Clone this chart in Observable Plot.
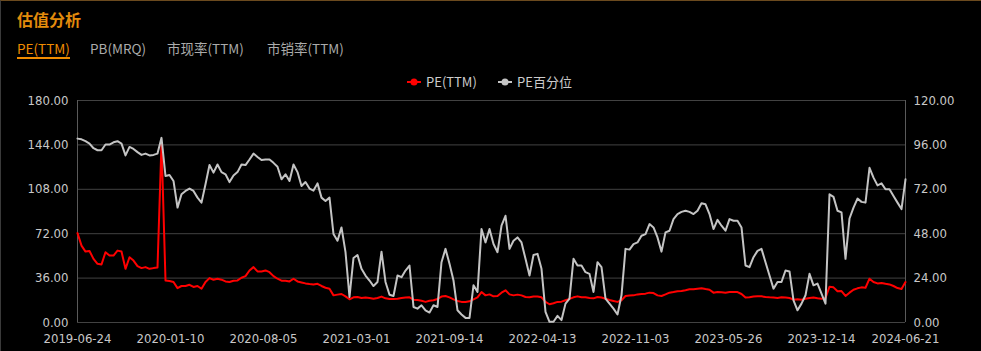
<!DOCTYPE html>
<html>
<head>
<meta charset="utf-8">
<script src="https://cdn.jsdelivr.net/npm/d3@7"></script>
<script src="https://cdn.jsdelivr.net/npm/@observablehq/plot@0.6"></script>
<style>
  html, body { margin: 0; padding: 0; background: #000; }
  #wrap { position: relative; width: 980px; height: 350px; background: #000;
          border-top: 1px solid #6b4a1e; border-left: 1px solid #3a3a3a; overflow: hidden;
          font-family: "Noto Sans CJK SC", "DejaVu Sans", sans-serif; }
  .title { position: absolute; left: 16px; top: 8px; font-size: 16px; font-weight: bold; color: #e38b0c; line-height: 20px; }
  .tab { position: absolute; top: 38px; font-size: 13.5px; color: #ababab; line-height: 18px; white-space: nowrap; }
  .tab.active { color: #f08c00; }
  .tab.active::after { content: ""; position: absolute; left: 0; right: 0; top: 18px; height: 2px; background: #f08c00; }
  .legend { position: absolute; top: 72px; left: 0; width: 980px; height: 18px; font-size: 13px; color: #cccccc; }
  .legend span.item { position: absolute; top: 0; line-height: 18px; white-space: nowrap; }
  .legend svg { vertical-align: middle; margin-right: 5px; position: relative; top: -1px; }
  #chart { position: absolute; left: -1px; top: 87px; }
</style>
</head>
<body>
<div id="wrap">
  <div class="title">估值分析</div>
  <div class="tab active" style="left:16px">PE(TTM)</div>
  <div class="tab" style="left:89px">PB(MRQ)</div>
  <div class="tab" style="left:166px">市现率(TTM)</div>
  <div class="tab" style="left:266px">市销率(TTM)</div>
  <div class="legend" id="legend"></div>
  <div id="chart"></div>
</div>
<script>
// ---- data ----
const seriesNames = ["PE(TTM)", "PE百分位"];
const seriesColors = ["#ff0000", "#c4c4c4"];

// PE(TTM), sampled uniformly across the trading-day range (left axis)
const pe = [
72.5,62.3,57.5,58.0,51.6,47.6,47.0,57.0,54.3,54.3,58.3,57.5,43.5,52.9,50.2,45.7,44.1,44.9,43.5,44.1,
44.6,145.6,34.1,33.6,32.8,27.9,29.6,29.6,30.6,28.8,29.6,27.4,32.8,36.0,34.7,35.5,34.7,33.3,32.8,33.9,
34.1,36.3,37.6,42.2,44.9,41.4,41.4,42.2,40.8,37.6,35.5,33.9,33.9,33.3,35.5,33.3,32.5,31.7,31.2,30.9,
31.4,29.6,28.2,27.4,22.0,22.6,23.1,21.2,18.8,20.4,20.7,19.9,20.2,19.9,19.3,19.9,21.0,19.6,19.1,19.1,
19.3,19.9,20.2,20.4,18.5,18.3,17.7,16.7,17.7,18.0,19.1,21.0,21.5,20.4,18.8,17.5,16.7,16.7,17.2,18.8,
20.4,24.7,22.0,22.8,21.2,21.5,24.2,26.1,22.8,22.0,22.6,22.0,20.7,20.4,21.0,21.0,20.4,16.7,14.8,15.6,
16.7,16.9,18.0,19.1,20.4,21.2,20.4,20.4,19.9,19.6,20.7,20.2,19.3,18.3,17.5,16.7,18.0,21.5,21.8,22.0,
22.8,23.1,23.4,24.2,23.9,22.0,21.5,22.8,24.2,24.7,25.3,25.5,26.1,26.9,26.9,27.4,27.7,27.1,26.6,24.2,
24.7,24.5,24.2,24.7,24.7,24.7,23.1,20.2,20.4,21.0,21.2,21.2,20.7,20.4,20.2,19.9,20.4,20.2,19.9,18.5,
18.8,18.5,19.3,19.9,20.2,19.6,19.3,19.9,29.0,28.5,25.3,25.5,21.5,24.2,26.6,27.7,28.5,28.2,35.5,32.8,
31.7,32.0,31.4,30.9,29.6,27.9,27.1,32.8
];

// PE percentile (right axis, 0-120)
const pct = [
99.4,99.0,98.0,96.7,94.2,93.1,93.1,96.2,96.2,97.4,98.0,96.7,90.3,94.9,93.8,92.1,90.6,91.3,90.3,90.6,
91.3,99.8,79.2,79.7,76.5,62.1,69.3,71.1,72.4,71.1,67.5,64.8,74.7,85.1,81.0,85.4,81.3,80.1,75.9,79.5,
81.3,85.4,85.1,88.1,91.3,89.5,87.8,88.1,88.1,86.3,84.2,77.4,80.1,76.5,85.4,81.3,73.8,75.9,72.4,71.3,
75.2,67.5,65.7,67.5,47.8,44.2,51.4,38.0,13.8,34.9,36.5,29.0,25.4,22.7,19.7,21.9,38.3,21.9,15.0,14.3,
25.4,24.5,28.1,30.8,8.4,7.5,9.3,6.6,5.4,9.3,8.4,32.6,39.8,31.7,22.7,6.6,4.3,2.5,2.5,20.1,
16.5,50.5,43.3,50.5,42.4,38.0,52.3,57.7,39.8,44.2,46.0,43.3,34.4,25.4,36.5,37.1,29.0,5.7,0.4,0.4,
3.6,1.3,10.2,12.9,34.4,30.8,30.8,27.2,26.3,16.5,32.6,29.9,12.9,10.2,7.5,4.3,14.7,39.8,39.4,42.4,
43.3,46.9,47.8,53.2,51.4,46.0,38.3,48.7,49.6,55.9,58.6,59.8,60.4,59.8,58.6,60.4,64.5,63.9,58.6,50.5,
55.5,52.3,49.6,55.9,55.0,55.0,51.4,30.8,29.9,35.3,38.7,39.8,32.6,25.4,18.3,21.9,21.9,28.1,27.6,12.0,
6.6,10.2,14.7,26.3,20.1,21.0,15.6,10.2,69.3,67.9,60.4,59.5,34.4,56.2,62.1,67.0,65.2,64.8,83.6,78.3,
74.1,75.2,72.0,72.0,68.4,64.8,61.3,77.4
];

const dateLabels = ["2019-06-24","2020-01-10","2020-08-05","2021-03-01","2021-09-14",
                    "2022-04-13","2022-11-03","2023-05-26","2023-12-14","2024-06-21"];
const tradingDays = 1212;      // categories on the x axis
const labelInterval = 136;     // a date label every 136 trading days (last one shown too)
const leftTicks = [0, 36, 72, 108, 144, 180];
const rightTicks = [0, 24, 48, 72, 96, 120];

// ---- build ----
const leftMax = leftTicks[leftTicks.length - 1];
const rightMax = rightTicks[rightTicks.length - 1];
const ratio = leftMax / rightMax;
const lastDay = tradingDays - 1;
const rows = pe.map((v, i) => ({ day: i * lastDay / (pe.length - 1), pe: v, pct: pct[i] }));
const labelDays = dateLabels.map((d, k) => k < dateLabels.length - 1 ? k * labelInterval : lastDay);
const labelOf = new Map(labelDays.map((d, k) => [d, dateLabels[k]]));

const font = '"DejaVu Sans Condensed", "DejaVu Sans", sans-serif';

const chart = Plot.plot({
  width: 981,
  height: 263,
  marginLeft: 77,
  marginRight: 76,
  marginTop: 12,
  marginBottom: 29,
  style: { background: "transparent", color: "#c8c8c8", fontSize: "13px", fontFamily: font },
  x: { domain: [0, lastDay], axis: null },
  y: { domain: [0, leftMax], axis: null },
  marks: [
    Plot.ruleY(leftTicks, { stroke: "#424242", strokeWidth: 1 }),
    Plot.ruleX([0, lastDay], { stroke: "#5a5a5a", strokeWidth: 1 }),
    Plot.axisY(leftTicks, { anchor: "left", label: null, tickSize: 0, tickPadding: 9, tickFormat: d => d.toFixed(2), fill: "#c8c8c8" }),
    Plot.axisY(rightTicks.map(t => t * ratio), { anchor: "right", label: null, tickSize: 0, tickPadding: 8, tickFormat: d => (d / ratio).toFixed(2), fill: "#c8c8c8" }),
    Plot.axisX(labelDays, { anchor: "bottom", label: null, tickSize: 0, tickPadding: 11, tickFormat: d => labelOf.get(d), fill: "#c8c8c8" }),
    Plot.line(rows, { x: "day", y: "pe", stroke: seriesColors[0], strokeWidth: 2, strokeLinejoin: "round" }),
    Plot.line(rows, { x: "day", y: d => d.pct * ratio, stroke: seriesColors[1], strokeWidth: 2, strokeLinejoin: "round" })
  ]
});
document.getElementById("chart").appendChild(chart);

// legend
const legend = document.getElementById("legend");
const legendLeft = [406, 497];
seriesNames.forEach((name, k) => {
  const item = document.createElement("span");
  item.className = "item";
  item.style.left = legendLeft[k] + "px";
  item.innerHTML = `<svg width="14" height="10"><line x1="0" y1="5" x2="14" y2="5" stroke="${seriesColors[k]}" stroke-width="2"/><circle cx="7" cy="5" r="3.5" fill="${seriesColors[k]}"/></svg>${name}`;
  legend.appendChild(item);
});
</script>
</body>
</html>
